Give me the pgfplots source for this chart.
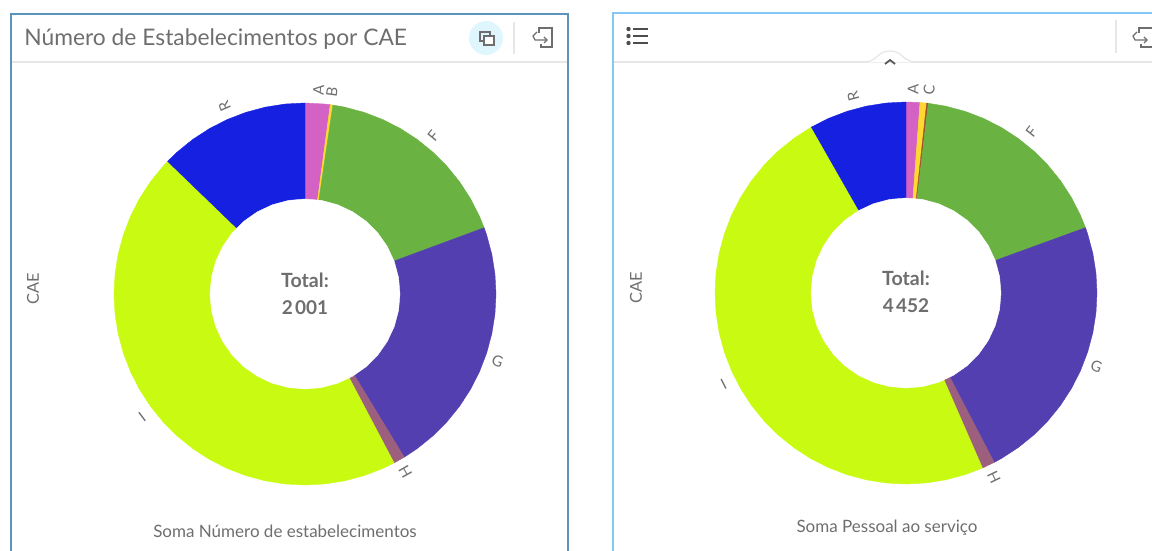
\documentclass[border=0pt]{standalone}
\usepackage{fontspec}
\setmainfont{Lato}
\usepackage{pgfplots}
\usepgfplotslibrary{polar}
\pgfplotsset{compat=1.18}
\definecolor{cA}{HTML}{D462C4}
\definecolor{cB}{HTML}{FFD92F}
\definecolor{cC}{HTML}{A0522D}
\definecolor{cF}{HTML}{6AB342}
\definecolor{cG}{HTML}{533FAF}
\definecolor{cH}{HTML}{9C5F7D}
\definecolor{cI}{HTML}{C9FA12}
\definecolor{cR}{HTML}{1520E0}
\definecolor{txt}{HTML}{6E6E6E}
\definecolor{edgeL}{HTML}{5B93BD}
\definecolor{edgeR}{HTML}{85C8F5}
\definecolor{sep}{HTML}{E6E6E6}
\def\px{0.5pt}
\newcommand{\fs}[1]{\fontsize{#1}{#1}\selectfont}
\tikzset{lab/.style={text=txt, inner sep=0pt}}
\pgfplotsset{
  donut/.style={
    axis x line=none, axis y line=none, hide axis,
    scale only axis, width=440*\px, height=440*\px,
    xmin=0, xmax=360, ymin=0, ymax=220,
    anchor=center, clip=false,
    every axis plot/.append style={no markers, line width=0.2pt, line join=round},
  },
}
\newcommand{\lbl}[3]{\node[lab, rotate=#2] at (axis cs:#2,#3) {\fs{7.5}#1};}
\newcommand{\hole}{\addplot[fill=white, draw=white] coordinates {(0,95)(10,95)(20,95)(30,95)(40,95)(50,95)(60,95)(70,95)(80,95)(90,95)(100,95)(110,95)(120,95)(130,95)(140,95)(150,95)(160,95)(170,95)(180,95)(190,95)(200,95)(210,95)(220,95)(230,95)(240,95)(250,95)(260,95)(270,95)(280,95)(290,95)(300,95)(310,95)(320,95)(330,95)(340,95)(350,95)} --cycle;}
\begin{document}
\begin{tikzpicture}[x=1pt,y=1pt]
\useasboundingbox (0,0) rectangle (576,275.5);
\clip (0,0) rectangle (576,275.5);
\begin{axis}[
  at={(0,0)}, anchor=south west, hide axis, scale only axis,
  width=1152*\px, height=551*\px,
  xmin=0, xmax=1152, ymin=0, ymax=551, y dir=reverse, clip=false]
% left card
\draw[edgeL, line width=1pt] (10.5,551) -- (10.5,14.5) -- (567.5,14.5) -- (567.5,551);
\draw[sep, line width=1pt] (11.5,62) -- (566.5,62);
\node[anchor=west, text=txt, inner sep=0pt] at (24,39.5) {\fs{11.4}Número de Estabelecimentos por CAE};
\fill[blue!30!cyan!12] (486,38) circle (8.5pt);
\draw[txt, line width=0.6pt] (480,32) rectangle (490,41);
\draw[txt, line width=0.6pt, fill=white] (484,36) rectangle (494,45);
\draw[sep, line width=0.6pt] (514,22) -- (514,54);
\draw[txt, line width=0.6pt] (539,33) -- (539,28) -- (552,28) -- (552,47) -- (541,47) -- (541,44);
\draw[txt, line width=0.6pt] (537,32) -- (533,36) -- (535,40) -- (547,40);
\draw[txt, line width=0.6pt] (544,37) -- (547,40) -- (544,43);
\node[rotate=90, text=txt, inner sep=0pt] at (33,289) {\fs{8.2}CAE};
\node[text=txt, inner sep=0pt] at (285,531) {\fs{8.5}Soma Número de estabelecimentos};
% right card
\draw[edgeR, line width=1pt] (612.5,551) -- (612.5,13.5) -- (1152,13.5);
\draw[sep, line width=1pt] (613.5,62) -- (1152,62);
\fill[white] (866,62.5) .. controls (878,60) and (878,51) .. (890,51) .. controls (902,51) and (902,60) .. (914,62.5) -- cycle;
\draw[sep, line width=0.6pt] (866,62) .. controls (878,60) and (878,51) .. (890,51) .. controls (902,51) and (902,60) .. (914,62);
\draw[txt!80!black, line width=0.9pt] (885,64) -- (890,60) -- (895,64);
\fill[txt!70!black] (628.5,29) circle (1.1pt);
\fill[txt!70!black] (628.5,36) circle (1.1pt);
\fill[txt!70!black] (628.5,43) circle (1.1pt);
\draw[txt!70!black, line width=0.8pt] (633,29) -- (648,29);
\draw[txt!70!black, line width=0.8pt] (633,36) -- (648,36);
\draw[txt!70!black, line width=0.8pt] (633,43) -- (648,43);
\draw[sep, line width=0.6pt] (1116,20) -- (1116,53);
\draw[txt, line width=0.6pt] (1139,33) -- (1139,28) -- (1152,28);
\draw[txt, line width=0.6pt] (1141,44) -- (1141,47) -- (1152,47);
\draw[txt, line width=0.6pt] (1137,32) -- (1133,36) -- (1135,40) -- (1147,40);
\draw[txt, line width=0.6pt] (1144,37) -- (1147,40) -- (1144,43);
\node[rotate=90, text=txt, inner sep=0pt] at (636,288) {\fs{8.2}CAE};
\node[text=txt, inner sep=0pt] at (887,528) {\fs{8.5}Soma Pessoal ao serviço};
\end{axis}
% left donut
\begin{polaraxis}[donut, at={(305*\px,257*\px)}]
\addplot[fill=cA, draw=cA] coordinates {(90,0)(90,191)(84,191)(82.4,191)} --cycle;
\addplot[fill=cB, draw=cB] coordinates {(82.4,0)(82.4,191)(81.6,191)} --cycle;
\addplot[fill=cF, draw=cF] coordinates {(81.6,0)(81.6,191)(78,191)(72,191)(66,191)(60,191)(54,191)(48,191)(42,191)(36,191)(30,191)(24,191)(20.3,191)} --cycle;
\addplot[fill=cG, draw=cG] coordinates {(20.3,0)(20.3,191)(18,191)(12,191)(6,191)(0,191)(354,191)(348,191)(342,191)(336,191)(330,191)(324,191)(318,191)(312,191)(306,191)(301.3,191)} --cycle;
\addplot[fill=cH, draw=cH] coordinates {(301.3,0)(301.3,191)(297.8,191)} --cycle;
\addplot[fill=cI, draw=cI] coordinates {(297.8,0)(297.8,191)(294,191)(288,191)(282,191)(276,191)(270,191)(264,191)(258,191)(252,191)(246,191)(240,191)(234,191)(228,191)(222,191)(216,191)(210,191)(204,191)(198,191)(192,191)(186,191)(180,191)(174,191)(168,191)(162,191)(156,191)(150,191)(144,191)(138,191)(136,191)} --cycle;
\addplot[fill=cR, draw=cR] coordinates {(136,0)(136,191)(132,191)(126,191)(120,191)(114,191)(108,191)(102,191)(96,191)(90,191)} --cycle;
\hole
\lbl{A}{86.2}{204}
\lbl{B}{82.4}{204}
\lbl{F}{51}{204}
\lbl{G}{-19.2}{204}
\lbl{H}{-60.5}{204}
\lbl{I}{-143}{204}
\lbl{R}{113.2}{204}
\node[lab] at (axis cs:90,14) {\fs{9.8}\bfseries Total:};
\node[lab] at (axis cs:270,14) {\fs{9.5}\bfseries 2\hspace{1.2pt}001};
\end{polaraxis}
% right donut
\begin{polaraxis}[donut, at={(906*\px,258*\px)}]
\addplot[fill=cA, draw=cA] coordinates {(90,0)(90,191)(85.8,191)} --cycle;
\addplot[fill=cB, draw=cB] coordinates {(85.8,0)(85.8,191)(83.8,191)} --cycle;
\addplot[fill=cC, draw=cC] coordinates {(83.8,0)(83.8,191)(83.3,191)} --cycle;
\addplot[fill=cF, draw=cF] coordinates {(83.3,0)(83.3,191)(78,191)(72,191)(66,191)(60,191)(54,191)(48,191)(42,191)(36,191)(30,191)(24,191)(20,191)} --cycle;
\addplot[fill=cG, draw=cG] coordinates {(20,0)(20,191)(18,191)(12,191)(6,191)(0,191)(354,191)(348,191)(342,191)(336,191)(330,191)(324,191)(318,191)(312,191)(306,191)(300,191)(297.5,191)} --cycle;
\addplot[fill=cH, draw=cH] coordinates {(297.5,0)(297.5,191)(293.6,191)} --cycle;
\addplot[fill=cI, draw=cI] coordinates {(293.6,0)(293.6,191)(288,191)(282,191)(276,191)(270,191)(264,191)(258,191)(252,191)(246,191)(240,191)(234,191)(228,191)(222,191)(216,191)(210,191)(204,191)(198,191)(192,191)(186,191)(180,191)(174,191)(168,191)(162,191)(156,191)(150,191)(144,191)(138,191)(132,191)(126,191)(119.7,191)} --cycle;
\addplot[fill=cR, draw=cR] coordinates {(119.7,0)(119.7,191)(114,191)(108,191)(102,191)(96,191)(90,191)} --cycle;
\hole
\lbl{A}{88}{204}
\lbl{C}{83.5}{204}
\lbl{F}{52}{204}
\lbl{G}{-21}{204}
\lbl{H}{-64.5}{204}
\lbl{I}{-153.4}{204}
\lbl{R}{105}{204}
\node[lab] at (axis cs:90,15) {\fs{9.8}\bfseries Total:};
\node[lab] at (axis cs:270,13) {\fs{9.5}\bfseries 4\hspace{1.2pt}452};
\end{polaraxis}
\end{tikzpicture}
\end{document}
